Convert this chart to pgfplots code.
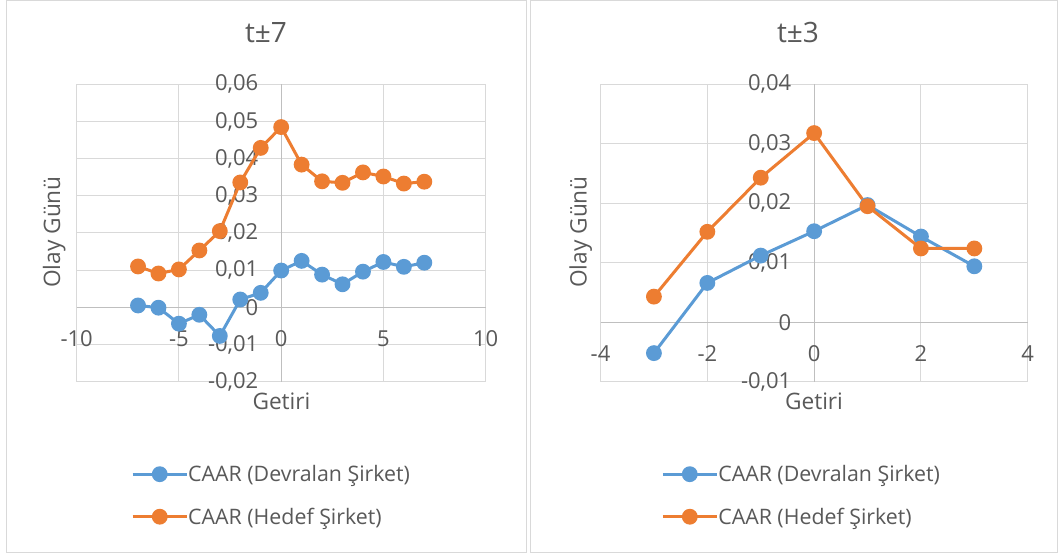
\documentclass[border=0pt]{standalone}
\usepackage{pgfplots}
\pgfplotsset{compat=1.18}
\usepackage{fontspec}
\setmainfont{Open Sans}
\definecolor{cblue}{HTML}{5B9BD5}
\definecolor{corange}{HTML}{ED7D31}
\definecolor{ctext}{HTML}{595959}
\definecolor{cgrid}{HTML}{D9D9D9}
\definecolor{caxis}{HTML}{BFBFBF}
\pgfplotstableread{
x blue orange
-7 0.0005 0.0110
-6 -0.0001 0.0091
-5 -0.0044 0.0102
-4 -0.0020 0.0153
-3 -0.0077 0.0205
-2 0.0021 0.0336
-1 0.0039 0.0429
0 0.0099 0.0485
1 0.0125 0.0384
2 0.0088 0.0339
3 0.0062 0.0335
4 0.0096 0.0363
5 0.0122 0.0352
6 0.0109 0.0333
7 0.0120 0.0338
}\tseven
\pgfplotstableread{
x blue orange
-3 -0.0052 0.0043
-2 0.0066 0.0152
-1 0.0112 0.0243
0 0.0153 0.0318
1 0.0197 0.0195
2 0.0144 0.0124
3 0.0094 0.0124
}\tthree
\pgfplotsset{
  excel/.style={
    scale only axis,
    axis lines=middle,
    axis line style={-, draw=caxis, line width=0.75pt},
    every inner x axis line/.append style={-},
    every inner y axis line/.append style={-},
    enlargelimits=false,
    grid=major,
    major grid style={draw=cgrid, line width=0.75pt},
    major tick length=0pt,
    hide obscured x ticks=false,
    hide obscured y ticks=false,
    scaled y ticks=false,
    clip=false,
    tick label style={font=\fontsize{16.5}{19}\selectfont, text=ctext},
    xticklabel style={anchor=center, inner sep=0pt, yshift=-23.25pt},
    yticklabel style={anchor=east, inner sep=0pt, xshift=-17pt},
    legend image code/.code={\draw[#1, mark repeat=2, mark phase=2] plot coordinates {(0pt,0pt) (20.25pt,0pt) (40.5pt,0pt)};},
    legend style={draw=none, fill=none, inner sep=0pt, row sep=20.5pt, column sep=0pt,
      font=\fontsize{16}{19}\selectfont, text=ctext,
      nodes={inner sep=0pt, text height=11.4pt, text depth=0pt}},
    legend cell align=left,
  },
  ser/.style={line width=2.25pt, mark=*, mark size=4.8pt, mark options={solid}},
}
\begin{document}
\begin{tikzpicture}
\useasboundingbox (0,0) rectangle (794.25pt,416.25pt);
\fill[white] (0,0) rectangle (794.25pt,416.25pt);
\draw[cgrid, line width=0.75pt] (4.5pt,1.5pt) rectangle (394.5pt,415.9pt);
\draw[cgrid, line width=0.75pt] (397.5pt,1.5pt) rectangle (792.75pt,415.9pt);
\begin{axis}[excel,
  at={(57.5pt,130pt)}, anchor=south west,
  width=306.75pt, height=223pt,
  xmin=-10, xmax=10, ymin=-0.02, ymax=0.06,
  xtick={-10,-5,0,5,10}, xticklabels={-10,-5,0,5,10},
  ytick={-0.02,-0.01,0,0.01,0.02,0.03,0.04,0.05,0.06},
  yticklabels={{-0,02},{-0,01},{0},{0,01},{0,02},{0,03},{0,04},{0,05},{0,06}},
  legend style={at={(0.1328,-0.3827)}, anchor=west},
]
\addplot[ser, color=cblue] table[x=x, y=blue] {\tseven};
\addlegendentry{CAAR (Devralan Şirket)}
\addplot[ser, color=corange] table[x=x, y=orange] {\tseven};
\addlegendentry{CAAR (Hedef Şirket)}
\end{axis}
\begin{axis}[excel,
  at={(450.4pt,130pt)}, anchor=south west,
  width=320.4pt, height=223pt,
  xmin=-4, xmax=4, ymin=-0.01, ymax=0.04,
  xtick={-4,-2,0,2,4}, xticklabels={-4,-2,0,2,4},
  ytick={-0.01,0,0.01,0.02,0.03,0.04},
  yticklabels={{-0,01},{0},{0,01},{0,02},{0,03},{0,04}},
  legend style={at={(0.1416,-0.3827)}, anchor=west},
]
\addplot[ser, color=cblue] table[x=x, y=blue] {\tthree};
\addlegendentry{CAAR (Devralan Şirket)}
\addplot[ser, color=corange] table[x=x, y=orange] {\tthree};
\addlegendentry{CAAR (Hedef Şirket)}
\end{axis}
\node[anchor=base, text=ctext, font=\fontsize{21}{25}\selectfont] at (199.5pt,384pt) {t±7};
\node[anchor=base, text=ctext, font=\fontsize{21}{25}\selectfont] at (598.5pt,384pt) {t±3};
\node[anchor=base, text=ctext, font=\fontsize{17}{20}\selectfont] at (211.1pt,108.75pt) {Getiri};
\node[anchor=base, text=ctext, font=\fontsize{17}{20}\selectfont] at (610.5pt,108.75pt) {Getiri};
\node[anchor=base, rotate=90, text=ctext, font=\fontsize{17}{20}\selectfont] at (45pt,242.25pt) {Olay Günü};
\node[anchor=base, rotate=90, text=ctext, font=\fontsize{17}{20}\selectfont] at (440pt,242.25pt) {Olay Günü};
\end{tikzpicture}
\end{document}
